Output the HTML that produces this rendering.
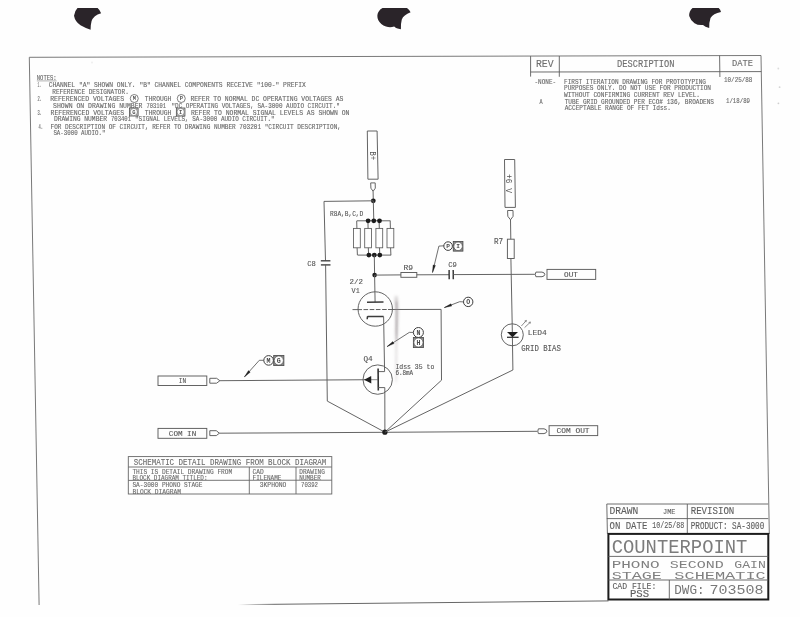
<!DOCTYPE html>
<html><head><meta charset="utf-8"><title>Phono Second Gain Stage Schematic</title>
<style>
html,body{margin:0;padding:0;background:#fefefe;}
body{width:800px;height:617px;overflow:hidden;font-family:"Liberation Sans",sans-serif;}
svg{display:block;}
text{font-family:"Liberation Mono",monospace;white-space:pre;}
</style></head><body>
<svg width="800" height="617" viewBox="0 0 800 617">
<rect x="0" y="0" width="800" height="617" fill="#fefefe"/>
<g opacity="0.999">
<path d="M77.5,8 L97.6,8 Q100,10 101.1,13.2 Q93.5,15.5 91.6,21 Q90.4,25.5 90.6,29.7 Q85,28 80.5,25.3 Q75,21.5 74,15.7 Q74.5,11 77.5,8 Z" fill="#2a2429"/>
<path d="M382.5,8 L407,8 Q409.5,9.8 410.6,12.3 Q403.5,15 401.8,19.5 Q400.6,24 400.9,29.3 Q396,28.6 394.2,26.6 Q390,27.8 386,26.6 Q380.5,24.5 378.2,20 Q376.4,15.5 378.4,12 Q380,9 382.5,8 Z" fill="#2a2429"/>
<path d="M692.5,8 L718.7,8 Q720.5,9.8 721,11.9 Q713,13.5 710.5,18 Q709,22.5 709.2,28 Q705,27 703,25 Q698,25.5 694.5,23.2 Q690.5,20.5 689.2,16 Q688.8,11.5 692.5,8 Z" fill="#2a2429"/>
<line x1="29.3" y1="57.3" x2="761" y2="55.5" stroke="#6a6a6a" stroke-width="0.9" />
<line x1="29.3" y1="57.3" x2="39.1" y2="605" stroke="#6a6a6a" stroke-width="0.9" />
<line x1="761" y1="55.5" x2="769.3" y2="534" stroke="#6a6a6a" stroke-width="0.9" />
<defs><linearGradient id="fade" gradientUnits="userSpaceOnUse" x1="238" x2="275" y1="0" y2="0"><stop offset="0" stop-color="#666" stop-opacity="0"/><stop offset="1" stop-color="#666" stop-opacity="1"/></linearGradient></defs>
<line x1="236" y1="604.7" x2="608.5" y2="600.9" stroke="url(#fade)" stroke-width="1"/>
<text x="36.8" y="79.7" font-size="6.67" textLength="19.8" lengthAdjust="spacingAndGlyphs" fill="#686868" font-weight="normal" font-family="Liberation Mono"  stroke="#686868" stroke-width="0.12">NOTES:</text>
<line x1="36.8" y1="80.9" x2="56.6" y2="80.9" stroke="#686868" stroke-width="0.5" />
<text x="37.4" y="86.9" font-size="6.67" textLength="3.6" lengthAdjust="spacingAndGlyphs" fill="#686868" font-weight="normal" font-family="Liberation Mono"  stroke="#686868" stroke-width="0.12">1.</text>
<text x="48.7" y="86.9" font-size="6.67" textLength="257.1" lengthAdjust="spacingAndGlyphs" fill="#686868" font-weight="normal" font-family="Liberation Mono"  stroke="#686868" stroke-width="0.12">CHANNEL "A" SHOWN ONLY. "B" CHANNEL COMPONENTS RECEIVE "100-" PREFIX</text>
<text x="52.3" y="93.6" font-size="6.67" textLength="76.5" lengthAdjust="spacingAndGlyphs" fill="#686868" font-weight="normal" font-family="Liberation Mono"  stroke="#686868" stroke-width="0.12">REFERENCE DESIGNATOR.</text>
<text x="37.4" y="100.8" font-size="6.67" textLength="4.4" lengthAdjust="spacingAndGlyphs" fill="#686868" font-weight="normal" font-family="Liberation Mono"  stroke="#686868" stroke-width="0.12">2.</text>
<text x="50.2" y="100.8" font-size="6.67" textLength="73.9" lengthAdjust="spacingAndGlyphs" fill="#686868" font-weight="normal" font-family="Liberation Mono"  stroke="#686868" stroke-width="0.12">REFERENCED VOLTAGES</text>
<text x="144.8" y="100.8" font-size="6.67" textLength="26.5" lengthAdjust="spacingAndGlyphs" fill="#686868" font-weight="normal" font-family="Liberation Mono"  stroke="#686868" stroke-width="0.12">THROUGH</text>
<text x="190.4" y="100.8" font-size="6.67" textLength="153.0" lengthAdjust="spacingAndGlyphs" fill="#686868" font-weight="normal" font-family="Liberation Mono"  stroke="#686868" stroke-width="0.12">REFER TO NORMAL DC OPERATING VOLTAGES AS</text>
<text x="53.1" y="108.0" font-size="6.67" textLength="89.4" lengthAdjust="spacingAndGlyphs" fill="#686868" font-weight="normal" font-family="Liberation Mono"  stroke="#686868" stroke-width="0.12">SHOWN ON DRAWING NUMBER</text>
<text x="146.6" y="108.0" font-size="6.67" textLength="19.5" lengthAdjust="spacingAndGlyphs" fill="#686868" font-weight="normal" font-family="Liberation Mono"  stroke="#686868" stroke-width="0.12">703101</text>
<text x="171.5" y="108.0" font-size="6.67" textLength="168.3" lengthAdjust="spacingAndGlyphs" fill="#686868" font-weight="normal" font-family="Liberation Mono"  stroke="#686868" stroke-width="0.12">"DC OPERATING VOLTAGES, SA-3000 AUDIO CIRCUIT."</text>
<text x="37.4" y="114.7" font-size="6.67" textLength="4.4" lengthAdjust="spacingAndGlyphs" fill="#686868" font-weight="normal" font-family="Liberation Mono"  stroke="#686868" stroke-width="0.12">3.</text>
<text x="50.6" y="114.7" font-size="6.67" textLength="73.5" lengthAdjust="spacingAndGlyphs" fill="#686868" font-weight="normal" font-family="Liberation Mono"  stroke="#686868" stroke-width="0.12">REFERENCED VOLTAGES</text>
<text x="144.8" y="114.7" font-size="6.67" textLength="26.5" lengthAdjust="spacingAndGlyphs" fill="#686868" font-weight="normal" font-family="Liberation Mono"  stroke="#686868" stroke-width="0.12">THROUGH</text>
<text x="190.9" y="114.7" font-size="6.67" textLength="158.5" lengthAdjust="spacingAndGlyphs" fill="#686868" font-weight="normal" font-family="Liberation Mono"  stroke="#686868" stroke-width="0.12">REFER TO NORMAL SIGNAL LEVELS AS SHOWN ON</text>
<text x="54" y="121.3" font-size="6.67" textLength="53" lengthAdjust="spacingAndGlyphs" fill="#686868" font-weight="normal" font-family="Liberation Mono"  stroke="#686868" stroke-width="0.12">DRAWING NUMBER</text>
<text x="111" y="121.3" font-size="6.67" textLength="20" lengthAdjust="spacingAndGlyphs" fill="#686868" font-weight="normal" font-family="Liberation Mono"  stroke="#686868" stroke-width="0.12">703401</text>
<text x="135" y="121.3" font-size="6.67" textLength="139.6" lengthAdjust="spacingAndGlyphs" fill="#686868" font-weight="normal" font-family="Liberation Mono"  stroke="#686868" stroke-width="0.12">"SIGNAL LEVELS, SA-3000 AUDIO CIRCUIT."</text>
<text x="38.5" y="128.6" font-size="6.67" textLength="4.5" lengthAdjust="spacingAndGlyphs" fill="#686868" font-weight="normal" font-family="Liberation Mono"  stroke="#686868" stroke-width="0.12">4.</text>
<text x="50.6" y="128.6" font-size="6.67" textLength="290.3" lengthAdjust="spacingAndGlyphs" fill="#686868" font-weight="normal" font-family="Liberation Mono"  stroke="#686868" stroke-width="0.12">FOR DESCRIPTION OF CIRCUIT, REFER TO DRAWING NUMBER 703201 "CIRCUIT DESCRIPTION,</text>
<text x="53.4" y="135.4" font-size="6.67" textLength="52.0" lengthAdjust="spacingAndGlyphs" fill="#686868" font-weight="normal" font-family="Liberation Mono"  stroke="#686868" stroke-width="0.12">SA-3000 AUDIO."</text>
<circle cx="134.25" cy="98.5" r="4.0" fill="none" stroke="#555" stroke-width="0.75"/>
<text x="134.25" y="100.309" font-size="5.4" text-anchor="middle" font-weight="bold" fill="#555">M</text>
<circle cx="181.25" cy="98.5" r="4.0" fill="none" stroke="#555" stroke-width="0.75"/>
<text x="181.25" y="100.309" font-size="5.4" text-anchor="middle" font-weight="bold" fill="#555">P</text>
<rect x="129.5" y="108.0" width="8.6" height="8.0" fill="#d0d0d0" stroke="#505050" stroke-width="0.8"/>
<circle cx="133.8" cy="112.0" r="3.7" fill="#fdfdfd" stroke="#555" stroke-width="0.6"/>
<text x="133.8" y="113.809" font-size="5.4" text-anchor="middle" font-weight="bold" fill="#555">G</text>
<rect x="176.35" y="108.0" width="8.6" height="8.0" fill="#d0d0d0" stroke="#505050" stroke-width="0.8"/>
<circle cx="180.65" cy="112.0" r="3.7" fill="#fdfdfd" stroke="#555" stroke-width="0.6"/>
<text x="180.65" y="113.809" font-size="5.4" text-anchor="middle" font-weight="bold" fill="#555">I</text>
<line x1="530.6" y1="56.1" x2="530.6" y2="76.6" stroke="#5c5c5c" stroke-width="0.9" />
<line x1="559.3" y1="56" x2="559.3" y2="76.8" stroke="#5c5c5c" stroke-width="0.9" />
<line x1="719.6" y1="55.6" x2="719.9" y2="77" stroke="#5c5c5c" stroke-width="0.9" />
<line x1="530.6" y1="72.0" x2="761.3" y2="71.6" stroke="#5c5c5c" stroke-width="0.9" />
<text x="536" y="66.6" font-size="10.0" textLength="17.6" lengthAdjust="spacingAndGlyphs" fill="#6e6e6e" font-weight="normal" font-family="Liberation Mono"  stroke="#6e6e6e" stroke-width="0.12">REV</text>
<text x="617.1" y="66.6" font-size="10.0" textLength="57.4" lengthAdjust="spacingAndGlyphs" fill="#6e6e6e" font-weight="normal" font-family="Liberation Mono"  stroke="#6e6e6e" stroke-width="0.12">DESCRIPTION</text>
<text x="732" y="65.9" font-size="9.55" textLength="21" lengthAdjust="spacingAndGlyphs" fill="#6e6e6e" font-weight="normal" font-family="Liberation Mono"  stroke="#6e6e6e" stroke-width="0.12">DATE</text>
<text x="534.5" y="83.6" font-size="6.52" textLength="21.6" lengthAdjust="spacingAndGlyphs" fill="#686868" font-weight="normal" font-family="Liberation Mono"  stroke="#686868" stroke-width="0.12">-NONE-</text>
<text x="564" y="83.6" font-size="6.52" textLength="142" lengthAdjust="spacingAndGlyphs" fill="#686868" font-weight="normal" font-family="Liberation Mono"  stroke="#686868" stroke-width="0.12">FIRST ITERATION DRAWING FOR PROTOTYPING</text>
<text x="564" y="90.4" font-size="6.67" textLength="147" lengthAdjust="spacingAndGlyphs" fill="#686868" font-weight="normal" font-family="Liberation Mono"  stroke="#686868" stroke-width="0.12">PURPOSES ONLY. DO NOT USE FOR PRODUCTION</text>
<text x="564" y="96.5" font-size="6.67" textLength="136" lengthAdjust="spacingAndGlyphs" fill="#686868" font-weight="normal" font-family="Liberation Mono"  stroke="#686868" stroke-width="0.12">WITHOUT CONFIRMING CURRENT REV LEVEL.</text>
<text x="539.5" y="103.7" font-size="6.67" textLength="3.1" lengthAdjust="spacingAndGlyphs" fill="#686868" font-weight="normal" font-family="Liberation Mono"  stroke="#686868" stroke-width="0.12">A</text>
<text x="564.7" y="103.7" font-size="6.67" textLength="149.3" lengthAdjust="spacingAndGlyphs" fill="#686868" font-weight="normal" font-family="Liberation Mono"  stroke="#686868" stroke-width="0.12">TUBE GRID GROUNDED PER ECO# 136, BROADENS</text>
<text x="564.7" y="110.1" font-size="6.67" textLength="106.2" lengthAdjust="spacingAndGlyphs" fill="#686868" font-weight="normal" font-family="Liberation Mono"  stroke="#686868" stroke-width="0.12">ACCEPTABLE RANGE OF FET Idss.</text>
<text x="724" y="82.4" font-size="6.67" textLength="28.4" lengthAdjust="spacingAndGlyphs" fill="#686868" font-weight="normal" font-family="Liberation Mono"  stroke="#686868" stroke-width="0.12">10/25/88</text>
<text x="726" y="103.4" font-size="6.67" textLength="24" lengthAdjust="spacingAndGlyphs" fill="#686868" font-weight="normal" font-family="Liberation Mono"  stroke="#686868" stroke-width="0.12">1/18/89</text>
<polygon points="367.3,131 377.1,131 378.1,179.2 367.9,179.2" fill="none" stroke="#5c5c5c" stroke-width="0.95" stroke-linejoin="round" />
<text transform="translate(369.6,151.4) rotate(90)" font-size="8.4" textLength="8.6" lengthAdjust="spacingAndGlyphs" fill="#555555">B+</text>
<polygon points="370.7,182.9 375.2,182.9 375.3,188.2 373.1,191.3 370.9,188.2" fill="none" stroke="#5c5c5c" stroke-width="0.95" stroke-linejoin="round" />
<line x1="373.1" y1="191.3" x2="373.3" y2="200.8" stroke="#5c5c5c" stroke-width="0.95" />
<circle cx="373.3" cy="200.8" r="2.4" fill="#1c1c1c"/>
<polyline points="373.3,200.8 324.0,201.4 325.5,260.8" fill="none" stroke="#5c5c5c" stroke-width="0.95" stroke-linejoin="round" />
<line x1="320.8" y1="260.8" x2="330.4" y2="260.8" stroke="#444" stroke-width="1.4" />
<line x1="320.9" y1="264.9" x2="330.5" y2="264.9" stroke="#444" stroke-width="1.4" />
<polyline points="325.6,264.9 327.3,401.1 384.9,432.2" fill="none" stroke="#5c5c5c" stroke-width="0.95" stroke-linejoin="round" />
<text x="307.3" y="266.2" font-size="8.03" textLength="8.6" lengthAdjust="spacingAndGlyphs" fill="#555555" font-weight="normal" font-family="Liberation Mono"  stroke="#555555" stroke-width="0.12">C8</text>
<text x="330" y="216.2" font-size="7.27" textLength="33.2" lengthAdjust="spacingAndGlyphs" fill="#555555" font-weight="normal" font-family="Liberation Mono"  stroke="#555555" stroke-width="0.12">R8A,B,C,D</text>
<line x1="373.3" y1="200.8" x2="373.8" y2="220.8" stroke="#5c5c5c" stroke-width="0.95" />
<line x1="356.9" y1="220.8" x2="390.4" y2="220.8" stroke="#5c5c5c" stroke-width="0.95" />
<line x1="357.6" y1="255.1" x2="391.1" y2="255.1" stroke="#5c5c5c" stroke-width="0.95" />
<rect x="353.5" y="228.4" width="6.8" height="19.4" fill="none" stroke="#5c5c5c" stroke-width="0.85"/>
<line x1="356.7" y1="220.8" x2="356.9" y2="228.4" stroke="#5c5c5c" stroke-width="0.95" />
<line x1="357.09999999999997" y1="247.8" x2="357.4" y2="255.1" stroke="#5c5c5c" stroke-width="0.95" />
<rect x="364.70000000000005" y="228.4" width="6.8" height="19.4" fill="none" stroke="#5c5c5c" stroke-width="0.85"/>
<line x1="367.90000000000003" y1="220.8" x2="368.1" y2="228.4" stroke="#5c5c5c" stroke-width="0.95" />
<line x1="368.3" y1="247.8" x2="368.6" y2="255.1" stroke="#5c5c5c" stroke-width="0.95" />
<rect x="375.90000000000003" y="228.4" width="6.8" height="19.4" fill="none" stroke="#5c5c5c" stroke-width="0.85"/>
<line x1="379.1" y1="220.8" x2="379.3" y2="228.4" stroke="#5c5c5c" stroke-width="0.95" />
<line x1="379.5" y1="247.8" x2="379.8" y2="255.1" stroke="#5c5c5c" stroke-width="0.95" />
<rect x="387.0" y="228.4" width="6.8" height="19.4" fill="none" stroke="#5c5c5c" stroke-width="0.85"/>
<line x1="390.2" y1="220.8" x2="390.4" y2="228.4" stroke="#5c5c5c" stroke-width="0.95" />
<line x1="390.59999999999997" y1="247.8" x2="390.9" y2="255.1" stroke="#5c5c5c" stroke-width="0.95" />
<circle cx="368.1" cy="220.8" r="2.4" fill="#1c1c1c"/>
<circle cx="373.8" cy="220.8" r="2.4" fill="#1c1c1c"/>
<circle cx="379.5" cy="220.8" r="2.4" fill="#1c1c1c"/>
<circle cx="368.9" cy="255.1" r="2.4" fill="#1c1c1c"/>
<circle cx="374.3" cy="255.1" r="2.4" fill="#1c1c1c"/>
<circle cx="379.8" cy="255.1" r="2.4" fill="#1c1c1c"/>
<line x1="374.3" y1="255.1" x2="374.6" y2="275.1" stroke="#5c5c5c" stroke-width="0.95" />
<circle cx="374.6" cy="275.1" r="2.3" fill="#1c1c1c"/>
<line x1="374.6" y1="275.1" x2="400.9" y2="274.9" stroke="#5c5c5c" stroke-width="0.95" />
<rect x="400.9" y="272.5" width="15.9" height="4.8" fill="none" stroke="#5c5c5c" stroke-width="0.95"/>
<line x1="416.8" y1="274.8" x2="449.1" y2="274.7" stroke="#5c5c5c" stroke-width="0.95" />
<line x1="449.1" y1="269.9" x2="449.2" y2="279.3" stroke="#3c3c3c" stroke-width="1.5" />
<line x1="453.2" y1="269.9" x2="453.3" y2="279.3" stroke="#3c3c3c" stroke-width="1.5" />
<line x1="453.3" y1="274.6" x2="534.9" y2="274.3" stroke="#5c5c5c" stroke-width="0.95" />
<text x="403.5" y="269.7" font-size="7.27" textLength="9.6" lengthAdjust="spacingAndGlyphs" fill="#555555" font-weight="normal" font-family="Liberation Mono"  stroke="#555555" stroke-width="0.12">R9</text>
<text x="448.2" y="266.8" font-size="7.27" textLength="8.7" lengthAdjust="spacingAndGlyphs" fill="#555555" font-weight="normal" font-family="Liberation Mono"  stroke="#555555" stroke-width="0.12">C9</text>
<path d="M535.9,272.1 L542,272.1 Q544.8,272.6 544.8,274.4 Q544.8,276.2 542,276.7 L535.9,276.7 Q534.7,274.4 535.9,272.1 Z" fill="none" stroke="#5c5c5c" stroke-width="0.95"/>
<rect x="547" y="269.4" width="48.7" height="10.0" fill="none" stroke="#5c5c5c" stroke-width="0.95"/>
<text x="564.1" y="276.8" font-size="6.97" textLength="13.8" lengthAdjust="spacingAndGlyphs" fill="#555555" font-weight="normal" font-family="Liberation Mono"  stroke="#555555" stroke-width="0.12">OUT</text>
<polyline points="444,245.8 438.9,246.1 432.5,272.5" fill="none" stroke="#4a4a4a" stroke-width="0.8" stroke-linejoin="round" />
<polygon points="432.50,272.50 433.05,264.92 435.48,265.51" fill="#222" stroke="#222" stroke-width="0.3"/>
<circle cx="448.1" cy="246.1" r="4.3" fill="#fdfdfd" stroke="#3c3c3c" stroke-width="1.0"/>
<text x="448.1" y="248.177" font-size="6.2" text-anchor="middle" font-weight="bold" fill="#4a4a4a">P</text>
<rect x="453.25" y="241.45000000000002" width="9.7" height="9.7" fill="#8a8a8a" stroke="#4a4a4a" stroke-width="0.8"/>
<circle cx="458.1" cy="246.3" r="4.3" fill="#fdfdfd" stroke="#4a4a4a" stroke-width="0.7"/>
<text x="458.1" y="248.377" font-size="6.2" text-anchor="middle" font-weight="bold" fill="#4a4a4a">I</text>
<text x="349.5" y="284.3" font-size="7.27" textLength="13.4" lengthAdjust="spacingAndGlyphs" fill="#555555" font-weight="normal" font-family="Liberation Mono"  stroke="#555555" stroke-width="0.12">2/2</text>
<text x="351.6" y="292.8" font-size="7.27" textLength="8.1" lengthAdjust="spacingAndGlyphs" fill="#555555" font-weight="normal" font-family="Liberation Mono"  stroke="#555555" stroke-width="0.12">V1</text>
<line x1="374.6" y1="275.1" x2="375.1" y2="302.2" stroke="#5c5c5c" stroke-width="0.95" />
<circle cx="375.25" cy="309.0" r="17.2" fill="none" stroke="#5c5c5c" stroke-width="0.95"/>
<line x1="367" y1="302.2" x2="383.5" y2="302.1" stroke="#3c3c3c" stroke-width="1.5" />
<line x1="352.5" y1="309.6" x2="362" y2="309.6" stroke="#5c5c5c" stroke-width="0.95" />
<line x1="363.5" y1="309.6" x2="388" y2="309.5" stroke="#5c5c5c" stroke-width="1.0" stroke-dasharray="4.6 1.6"/>
<polyline points="388,309.5 441.1,309.4 441.5,380.2 384.9,432.2" fill="none" stroke="#5c5c5c" stroke-width="0.95" stroke-linejoin="round" />
<polyline points="367.2,319.2 367.4,317.0 368.2,316.5 383.6,316.5" fill="none" stroke="#3c3c3c" stroke-width="1.5" stroke-linejoin="round" />
<polyline points="383.6,316.5 384.6,371.6 378.1,371.6" fill="none" stroke="#5c5c5c" stroke-width="0.95" stroke-linejoin="round" />
<polyline points="463.3,301.9 459.7,301.7 444.3,307.6" fill="none" stroke="#4a4a4a" stroke-width="0.8" stroke-linejoin="round" />
<polygon points="444.30,307.60 450.86,303.75 451.75,306.08" fill="#222" stroke="#222" stroke-width="0.3"/>
<circle cx="468.2" cy="301.9" r="4.7" fill="#fdfdfd" stroke="#3c3c3c" stroke-width="1.0"/>
<text x="468.2" y="304.111" font-size="6.6" text-anchor="middle" font-weight="bold" fill="#4a4a4a">O</text>
<polyline points="413.4,332.4 409.3,332.4 387.1,346.6" fill="none" stroke="#4a4a4a" stroke-width="0.8" stroke-linejoin="round" />
<polygon points="387.10,346.60 392.74,341.51 394.09,343.61" fill="#222" stroke="#222" stroke-width="0.3"/>
<circle cx="418.4" cy="332.5" r="5.0" fill="#fdfdfd" stroke="#3c3c3c" stroke-width="1.0"/>
<text x="418.4" y="334.711" font-size="6.6" text-anchor="middle" font-weight="bold" fill="#4a4a4a">N</text>
<rect x="413.34999999999997" y="337.4" width="10.2" height="10.2" fill="#8a8a8a" stroke="#4a4a4a" stroke-width="0.8"/>
<circle cx="418.45" cy="342.5" r="4.6" fill="#fdfdfd" stroke="#4a4a4a" stroke-width="0.7"/>
<text x="418.45" y="344.711" font-size="6.6" text-anchor="middle" font-weight="bold" fill="#4a4a4a">H</text>
<defs><filter id="bl" x="-50%" y="-10%" width="200%" height="120%"><feGaussianBlur stdDeviation="0.9"/></filter></defs>
<defs><linearGradient id="sm" x1="0" x2="0" y1="0" y2="1"><stop offset="0" stop-color="#8e8588" stop-opacity="0.15"/><stop offset="0.08" stop-color="#8e8588" stop-opacity="0.45"/><stop offset="0.42" stop-color="#8e8588" stop-opacity="0.42"/><stop offset="0.55" stop-color="#9a9194" stop-opacity="0.2"/><stop offset="0.95" stop-color="#9a9194" stop-opacity="0.18"/><stop offset="1" stop-color="#9a9194" stop-opacity="0"/></linearGradient></defs>
<path d="M394.2,295.5 Q396.0,312 394.9,330 Q394.6,350 395.1,384 L397.3,384 Q397.5,350 398.2,330 Q399.2,312 398.0,295.5 Z" fill="url(#sm)" filter="url(#bl)"/>
<path d="M395.9,302 L397.0,302 L397.2,340 L396.1,340 Z" fill="#7a7074" opacity="0.3" filter="url(#bl)"/>
<text x="363.5" y="360.6" font-size="7.12" textLength="9.2" lengthAdjust="spacingAndGlyphs" fill="#555555" font-weight="normal" font-family="Liberation Mono"  stroke="#555555" stroke-width="0.12">Q4</text>
<circle cx="377.7" cy="379.6" r="14.7" fill="none" stroke="#5c5c5c" stroke-width="0.95"/>
<line x1="378.1" y1="368.6" x2="378.3" y2="390.5" stroke="#333" stroke-width="1.6" />
<polyline points="378.2,387.6 384.8,387.6 384.9,432.2" fill="none" stroke="#5c5c5c" stroke-width="0.95" stroke-linejoin="round" />
<line x1="219.9" y1="380.7" x2="371.1" y2="379.7" stroke="#5c5c5c" stroke-width="0.95" />
<line x1="371.1" y1="379.7" x2="378.1" y2="379.7" stroke="#5c5c5c" stroke-width="0.7" />
<polygon points="364.1,379.7 371.2,375.9 371.3,383.4" fill="#1e1e1e"/>
<text x="395.4" y="368.7" font-size="6.82" textLength="38.9" lengthAdjust="spacingAndGlyphs" fill="#555555" font-weight="normal" font-family="Liberation Mono"  stroke="#555555" stroke-width="0.12">Idss 35 to</text>
<text x="395.4" y="375.0" font-size="6.36" textLength="17.8" lengthAdjust="spacingAndGlyphs" fill="#555555" font-weight="normal" font-family="Liberation Mono"  stroke="#555555" stroke-width="0.12">6.8mA</text>
<rect x="158" y="376" width="48.8" height="9.5" fill="none" stroke="#5c5c5c" stroke-width="0.95"/>
<text x="178.7" y="383.3" font-size="7.12" textLength="7.4" lengthAdjust="spacingAndGlyphs" fill="#555555" font-weight="normal" font-family="Liberation Mono"  stroke="#555555" stroke-width="0.12">IN</text>
<path d="M209.8,378.3 L216.6,378.3 L219.9,380.7 L216.6,383.2 L209.8,383.2 Z" fill="none" stroke="#5c5c5c" stroke-width="0.95"/>
<polyline points="263.9,360.3 259.3,360.3 244.4,376.9" fill="none" stroke="#4a4a4a" stroke-width="0.8" stroke-linejoin="round" />
<polygon points="244.40,376.90 248.45,370.59 250.24,372.19" fill="#222" stroke="#222" stroke-width="0.3"/>
<circle cx="268.6" cy="360.4" r="4.8" fill="#fdfdfd" stroke="#3c3c3c" stroke-width="1.0"/>
<text x="268.6" y="362.611" font-size="6.6" text-anchor="middle" font-weight="bold" fill="#4a4a4a">M</text>
<rect x="273.7" y="355.4" width="10.2" height="10.2" fill="#8a8a8a" stroke="#4a4a4a" stroke-width="0.8"/>
<circle cx="278.8" cy="360.5" r="4.6" fill="#fdfdfd" stroke="#4a4a4a" stroke-width="0.7"/>
<text x="278.8" y="362.711" font-size="6.6" text-anchor="middle" font-weight="bold" fill="#4a4a4a">G</text>
<rect x="158" y="428.4" width="48.8" height="9.9" fill="none" stroke="#5c5c5c" stroke-width="0.95"/>
<text x="168.8" y="436.1" font-size="7.58" textLength="27.5" lengthAdjust="spacingAndGlyphs" fill="#555555" font-weight="normal" font-family="Liberation Mono"  stroke="#555555" stroke-width="0.12">COM IN</text>
<path d="M209.8,430.7 L216.3,430.7 L219.4,433.2 L216.3,435.6 L209.8,435.6 Z" fill="none" stroke="#5c5c5c" stroke-width="0.95"/>
<polyline points="219.4,433.2 384.9,432.3 537.4,431.3" fill="none" stroke="#5c5c5c" stroke-width="0.95" stroke-linejoin="round" />
<circle cx="384.9" cy="432.2" r="2.6" fill="#1c1c1c"/>
<path d="M538.4,428.8 L544,428.8 Q546.9,429.4 546.9,431.2 Q546.9,433 544,433.6 L538.4,433.6 Q537.2,431.2 538.4,428.8 Z" fill="none" stroke="#5c5c5c" stroke-width="0.95"/>
<rect x="549.1" y="425.7" width="48.6" height="9.9" fill="none" stroke="#5c5c5c" stroke-width="0.95"/>
<text x="556.5" y="433.4" font-size="7.58" textLength="33.1" lengthAdjust="spacingAndGlyphs" fill="#555555" font-weight="normal" font-family="Liberation Mono"  stroke="#555555" stroke-width="0.12">COM OUT</text>
<polygon points="504.5,159.5 514.7,159.5 515.4,207.4 505,207.4" fill="none" stroke="#5c5c5c" stroke-width="0.95" stroke-linejoin="round" />
<text transform="translate(505.8,174) rotate(90)" font-size="8.6" textLength="19" lengthAdjust="spacingAndGlyphs" fill="#555555">+6 V</text>
<polygon points="507.6,210.5 513,210.5 513.1,216.3 510.5,219.8 507.8,216.3" fill="none" stroke="#5c5c5c" stroke-width="0.95" stroke-linejoin="round" />
<line x1="510.5" y1="219.8" x2="510.8" y2="239.2" stroke="#5c5c5c" stroke-width="0.95" />
<rect x="507.4" y="239.2" width="6.8" height="19.3" fill="none" stroke="#5c5c5c" stroke-width="0.95"/>
<text x="494" y="244.1" font-size="8.33" textLength="9.2" lengthAdjust="spacingAndGlyphs" fill="#555555" font-weight="normal" font-family="Liberation Mono"  stroke="#555555" stroke-width="0.12">R7</text>
<polyline points="510.9,258.5 512.2,324 512.9,370 384.9,432.2" fill="none" stroke="#5c5c5c" stroke-width="0.95" stroke-linejoin="round" />
<circle cx="512.3" cy="334.8" r="11.0" fill="none" stroke="#5c5c5c" stroke-width="0.95"/>
<polygon points="507.0,332.0 518.0,332.0 512.5,337.2" fill="#1e1e1e"/>
<line x1="507.0" y1="337.3" x2="518.6" y2="337.3" stroke="#333" stroke-width="1.3" />
<line x1="521.4" y1="326" x2="526.2" y2="320.6" stroke="#5c5c5c" stroke-width="0.7" />
<line x1="524.6" y1="327.6" x2="530.3" y2="322.2" stroke="#5c5c5c" stroke-width="0.7" />
<polyline points="524.6,320.9 526.4,320.4 526.0,322.2" fill="none" stroke="#5c5c5c" stroke-width="0.6" stroke-linejoin="round" />
<polyline points="528.6,322.5 530.4,322.0 530.1,323.8" fill="none" stroke="#5c5c5c" stroke-width="0.6" stroke-linejoin="round" />
<text x="527.8" y="334.7" font-size="8.03" textLength="19.0" lengthAdjust="spacingAndGlyphs" fill="#555555" font-weight="normal" font-family="Liberation Mono"  stroke="#555555" stroke-width="0.12">LED4</text>
<text x="521.2" y="350.8" font-size="8.18" textLength="39.6" lengthAdjust="spacingAndGlyphs" fill="#555555" font-weight="normal" font-family="Liberation Mono"  stroke="#555555" stroke-width="0.12">GRID BIAS</text>
<rect x="128.3" y="456.6" width="203.5" height="37.4" fill="none" stroke="#666" stroke-width="0.9"/>
<line x1="128.3" y1="467.0" x2="331.8" y2="467.0" stroke="#666" stroke-width="0.9" />
<line x1="128.3" y1="480.4" x2="331.8" y2="480.2" stroke="#666" stroke-width="0.9" />
<line x1="249.3" y1="467.0" x2="249.3" y2="494.0" stroke="#666" stroke-width="0.9" />
<line x1="296.0" y1="467.0" x2="296.0" y2="494.0" stroke="#666" stroke-width="0.9" />
<text x="133.8" y="465.1" font-size="9.55" textLength="192.5" lengthAdjust="spacingAndGlyphs" fill="#6a6a6a" font-weight="normal" font-family="Liberation Mono"  stroke="#6a6a6a" stroke-width="0.12">SCHEMATIC DETAIL DRAWING FROM BLOCK DIAGRAM</text>
<text x="132.4" y="473.9" font-size="6.97" textLength="99.8" lengthAdjust="spacingAndGlyphs" fill="#6a6a6a" font-weight="normal" font-family="Liberation Mono"  stroke="#6a6a6a" stroke-width="0.12">THIS IS DETAIL DRAWING FROM</text>
<text x="132.4" y="480.3" font-size="6.97" textLength="75.1" lengthAdjust="spacingAndGlyphs" fill="#6a6a6a" font-weight="normal" font-family="Liberation Mono"  stroke="#6a6a6a" stroke-width="0.12">BLOCK DIAGRAM TITLED:</text>
<text x="132.4" y="486.8" font-size="6.97" textLength="70.1" lengthAdjust="spacingAndGlyphs" fill="#6a6a6a" font-weight="normal" font-family="Liberation Mono"  stroke="#6a6a6a" stroke-width="0.12">SA-3000 PHONO STAGE</text>
<text x="132.4" y="493.7" font-size="6.97" textLength="48.7" lengthAdjust="spacingAndGlyphs" fill="#6a6a6a" font-weight="normal" font-family="Liberation Mono"  stroke="#6a6a6a" stroke-width="0.12">BLOCK DIAGRAM</text>
<text x="252.6" y="473.9" font-size="6.97" textLength="11.2" lengthAdjust="spacingAndGlyphs" fill="#6a6a6a" font-weight="normal" font-family="Liberation Mono"  stroke="#6a6a6a" stroke-width="0.12">CAD</text>
<text x="252.6" y="480.3" font-size="6.97" textLength="28.8" lengthAdjust="spacingAndGlyphs" fill="#6a6a6a" font-weight="normal" font-family="Liberation Mono"  stroke="#6a6a6a" stroke-width="0.12">FILENAME</text>
<text x="259.7" y="486.8" font-size="6.97" textLength="26.7" lengthAdjust="spacingAndGlyphs" fill="#6a6a6a" font-weight="normal" font-family="Liberation Mono"  stroke="#6a6a6a" stroke-width="0.12">3KPHONO</text>
<text x="299.3" y="473.9" font-size="6.97" textLength="25.6" lengthAdjust="spacingAndGlyphs" fill="#6a6a6a" font-weight="normal" font-family="Liberation Mono"  stroke="#6a6a6a" stroke-width="0.12">DRAWING</text>
<text x="299.3" y="480.3" font-size="6.97" textLength="21.5" lengthAdjust="spacingAndGlyphs" fill="#6a6a6a" font-weight="normal" font-family="Liberation Mono"  stroke="#6a6a6a" stroke-width="0.12">NUMBER</text>
<text x="301" y="486.8" font-size="6.97" textLength="17" lengthAdjust="spacingAndGlyphs" fill="#6a6a6a" font-weight="normal" font-family="Liberation Mono"  stroke="#6a6a6a" stroke-width="0.12">70392</text>
<line x1="606.8" y1="504.0" x2="768.2" y2="504.0" stroke="#5e5e5e" stroke-width="0.9" />
<line x1="606.8" y1="518.6" x2="768.3" y2="518.6" stroke="#5e5e5e" stroke-width="0.9" />
<line x1="606.8" y1="504.0" x2="607.4" y2="533.7" stroke="#5e5e5e" stroke-width="0.9" />
<line x1="687.3" y1="504.0" x2="687.3" y2="533.7" stroke="#5e5e5e" stroke-width="0.9" />
<rect x="608.4" y="533.9" width="159.9" height="65.6" fill="none" stroke="#1c1c1c" stroke-width="2.0"/>
<line x1="608.4" y1="556.4" x2="768.3" y2="556.4" stroke="#5e5e5e" stroke-width="0.9" />
<line x1="608.4" y1="580.0" x2="768.3" y2="580.0" stroke="#5e5e5e" stroke-width="0.9" />
<line x1="669.3" y1="580.0" x2="669.3" y2="599.5" stroke="#5e5e5e" stroke-width="0.9" />
<text x="609.5" y="514.1" font-size="10.15" textLength="28.8" lengthAdjust="spacingAndGlyphs" fill="#5e5e5e" font-weight="normal" font-family="Liberation Mono"  stroke="#5e5e5e" stroke-width="0.12">DRAWN</text>
<text x="663" y="513.8" font-size="7.88" textLength="12.4" lengthAdjust="spacingAndGlyphs" fill="#5e5e5e" font-weight="normal" font-family="Liberation Mono"  stroke="#5e5e5e" stroke-width="0.12">JME</text>
<text x="690.7" y="513.7" font-size="11.06" textLength="43.6" lengthAdjust="spacingAndGlyphs" fill="#5e5e5e" font-weight="normal" font-family="Liberation Mono"  stroke="#5e5e5e" stroke-width="0.12">REVISION</text>
<text x="609.5" y="528.8" font-size="10.3" textLength="37.8" lengthAdjust="spacingAndGlyphs" fill="#5e5e5e" font-weight="normal" font-family="Liberation Mono"  stroke="#5e5e5e" stroke-width="0.12">ON DATE</text>
<text x="652.2" y="528.4" font-size="8.79" textLength="32.2" lengthAdjust="spacingAndGlyphs" fill="#5e5e5e" font-weight="normal" font-family="Liberation Mono"  stroke="#5e5e5e" stroke-width="0.12">10/25/88</text>
<text x="690.7" y="528.8" font-size="10.3" textLength="73.6" lengthAdjust="spacingAndGlyphs" fill="#5e5e5e" font-weight="normal" font-family="Liberation Mono"  stroke="#5e5e5e" stroke-width="0.12">PRODUCT: SA-3000</text>
<text x="611.7" y="553.1" font-size="19.85" textLength="135.7" lengthAdjust="spacingAndGlyphs" fill="#7c7c7c" font-weight="normal" font-family="Liberation Mono" >COUNTERPOINT</text>
<text x="611.7" y="567.5" font-size="10.91" textLength="47.9" lengthAdjust="spacingAndGlyphs" fill="#808080" font-weight="normal" font-family="Liberation Mono" >PHONO</text>
<text x="669.8" y="567.5" font-size="10.91" textLength="54.0" lengthAdjust="spacingAndGlyphs" fill="#808080" font-weight="normal" font-family="Liberation Mono" >SECOND</text>
<text x="734.3" y="567.5" font-size="10.91" textLength="31.5" lengthAdjust="spacingAndGlyphs" fill="#808080" font-weight="normal" font-family="Liberation Mono" >GAIN</text>
<text x="611.7" y="578.7" font-size="11.36" textLength="50.2" lengthAdjust="spacingAndGlyphs" fill="#808080" font-weight="normal" font-family="Liberation Mono" >STAGE</text>
<text x="674.3" y="578.7" font-size="11.36" textLength="91.5" lengthAdjust="spacingAndGlyphs" fill="#808080" font-weight="normal" font-family="Liberation Mono" >SCHEMATIC</text>
<text x="612.4" y="588.8" font-size="9.85" textLength="43.9" lengthAdjust="spacingAndGlyphs" fill="#5e5e5e" font-weight="normal" font-family="Liberation Mono"  stroke="#5e5e5e" stroke-width="0.12">CAD FILE:</text>
<text x="629.9" y="597.4" font-size="10.15" textLength="19.2" lengthAdjust="spacingAndGlyphs" fill="#5e5e5e" font-weight="normal" font-family="Liberation Mono"  stroke="#5e5e5e" stroke-width="0.12">PSS</text>
<text x="674.3" y="594.0" font-size="12.58" textLength="30.3" lengthAdjust="spacingAndGlyphs" fill="#747474" font-weight="normal" font-family="Liberation Mono" >DWG:</text>
<text x="709.6" y="594.0" font-size="12.58" textLength="54.0" lengthAdjust="spacingAndGlyphs" fill="#787878" font-weight="normal" font-family="Liberation Mono" >703508</text>
<circle cx="778.3" cy="68.5" r="0.9" fill="#777" opacity="0.25"/>
<circle cx="779.6" cy="87.2" r="0.9" fill="#777" opacity="0.3"/>
<circle cx="778.4" cy="103.3" r="0.9" fill="#777" opacity="0.35"/>
<circle cx="92" cy="62.5" r="0.9" fill="#777" opacity="0.12"/>
</g>
</svg>
</body></html>
